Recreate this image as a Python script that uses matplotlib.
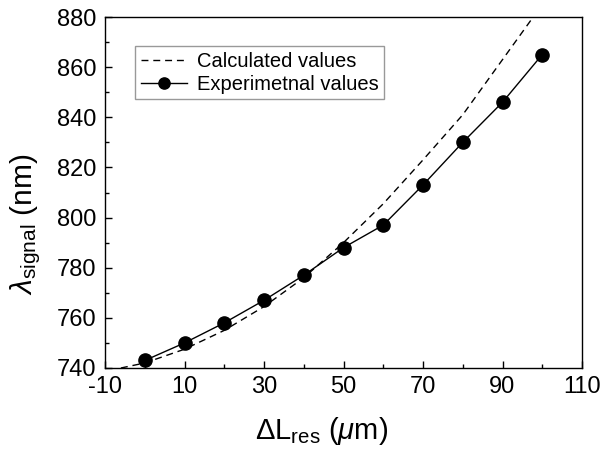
import matplotlib
matplotlib.use("Agg")
import matplotlib.pyplot as plt
from matplotlib.ticker import MultipleLocator

plt.rcParams['font.family'] = ['Liberation Sans', 'DejaVu Sans']
plt.rcParams['mathtext.fontset'] = 'custom'
plt.rcParams['mathtext.rm'] = 'Liberation Sans'
plt.rcParams['mathtext.it'] = 'Liberation Sans:italic'
plt.rcParams['axes.unicode_minus'] = False

calc_x = [-6, 0, 10, 20, 30, 40, 50, 60, 70, 80, 90, 100]
calc_y = [740, 742, 747.5, 755, 764.5, 776, 790, 805.5, 823, 841, 863, 885]
exp_x = [0, 10, 20, 30, 40, 50, 60, 70, 80, 90, 100]
exp_y = [743, 750, 758, 767, 777, 788, 797, 813, 830, 846, 865]

fig = plt.figure(figsize=(6.1, 4.5), dpi=100)
ax = fig.add_axes([105/610, 1-368/450, 477/610, 351/450])

ax.plot(calc_x, calc_y, '--', color='black', lw=1.0, dashes=(5, 3.5), label='Calculated values')
ax.plot(exp_x, exp_y, '-o', color='black', lw=1.0, markersize=9.5, label='Experimetnal values')

ax.set_xlim(-10, 110)
ax.set_ylim(740, 880)
ax.xaxis.set_minor_locator(MultipleLocator(10))
ax.yaxis.set_major_locator(MultipleLocator(20))
ax.yaxis.set_minor_locator(MultipleLocator(10))
ax.set_xticks([-10, 10, 30, 50, 70, 90, 110])
ax.tick_params(which='both', direction='in', top=False, right=False, labelsize=17)
ax.tick_params(which='major', length=5, width=1, pad=6)
ax.tick_params(which='minor', length=3, width=1)
for s in ax.spines.values():
    s.set_linewidth(1.0)

ax.set_xlabel(r'$\Delta\mathrm{L}_{\mathrm{res}}$ ($\mathit{\mu}$m)', fontsize=21)
ax.xaxis.set_label_coords(0.453, -0.135)
ax.set_ylabel(r'$\lambda_{\mathrm{signal}}$ (nm)', fontsize=21.5)
ax.yaxis.set_label_coords(-0.13, 0.41)

leg = ax.legend(loc='upper left', bbox_to_anchor=(0.063, 0.917), fontsize=14.5,
                frameon=True, fancybox=False, edgecolor='#999999', framealpha=1,
                handlelength=2.3, handletextpad=0.5, borderpad=0.28, labelspacing=0.2,
                borderaxespad=0, markerscale=0.85)
leg.get_frame().set_linewidth(1.0)

fig.savefig('out.png', dpi=100)
